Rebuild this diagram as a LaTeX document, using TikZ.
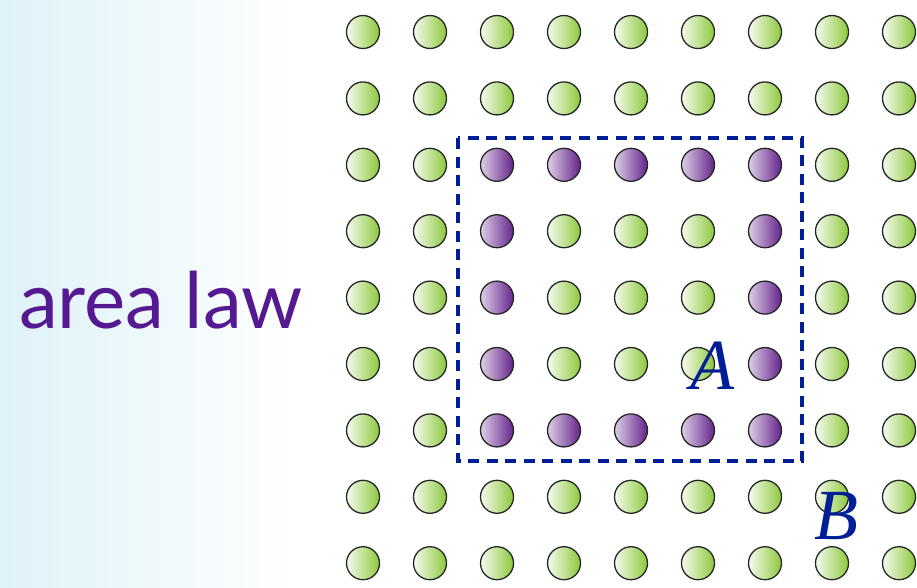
\documentclass[tikz,border=0pt]{standalone}
\usepackage{fontspec}
\usepackage{tikz}
\newfontfamily\sitefont{Lato}
\newfontfamily\labelfont{Liberation Serif}
\definecolor{MySiteGreen}{RGB}{140,200,60}
\definecolor{MySitePurple}{RGB}{100,35,140}
\definecolor{MyLawPurple}{RGB}{85,25,145}
\definecolor{MyDashBlue}{RGB}{0,30,150}
\definecolor{MyBgCyan}{RGB}{222,242,248}
\tikzset{
    site/.style={circle, draw=black!85, line width=1.3pt, minimum size=33pt, inner sep=0pt,
        left color=white!92!MySiteGreen, right color=MySiteGreen},
    edgesite/.style={site, left color=white!78!MySitePurple, right color=MySitePurple},
    regionlabel/.style={text=MyDashBlue, font=\labelfont\itshape\fontsize{72}{72}\selectfont}
}

\begin{document}
\begin{tikzpicture}[x=1pt, y=-1pt]
    \useasboundingbox (0,0) rectangle (917,587);
    % background fade
    \shade[left color=MyBgCyan, right color=white] (0,0) rectangle (300,587);
    % lattice of sites
    \foreach \i in {0,...,8} {
      \foreach \j in {0,...,8} {
        \pgfmathtruncatemacro{\onedge}{(\i>=2 && \i<=6 && \j>=2 && \j<=6 && (\i==2 || \i==6 || \j==2 || \j==6)) ? 1 : 0}
        \ifnum\onedge=1
          \node[edgesite] (c-\i-\j) at (363+67*\i, 32+66.4*\j) {};
        \else
          \node[site] (c-\i-\j) at (363+67*\i, 32+66.4*\j) {};
        \fi
      }
    }
    % region A
    \draw[MyDashBlue, line width=4.5pt, dash pattern=on 11pt off 7.5pt] (458,138) rectangle (802,461);
    \node[regionlabel] (labA) at (712,366) {A};
    \node[regionlabel] (labB) at (836,516) {B};
    \node[text=MyLawPurple, font=\sitefont\fontsize{78}{78}\selectfont] (law) at (161,300) {area law};
  \end{tikzpicture}
\end{document}
